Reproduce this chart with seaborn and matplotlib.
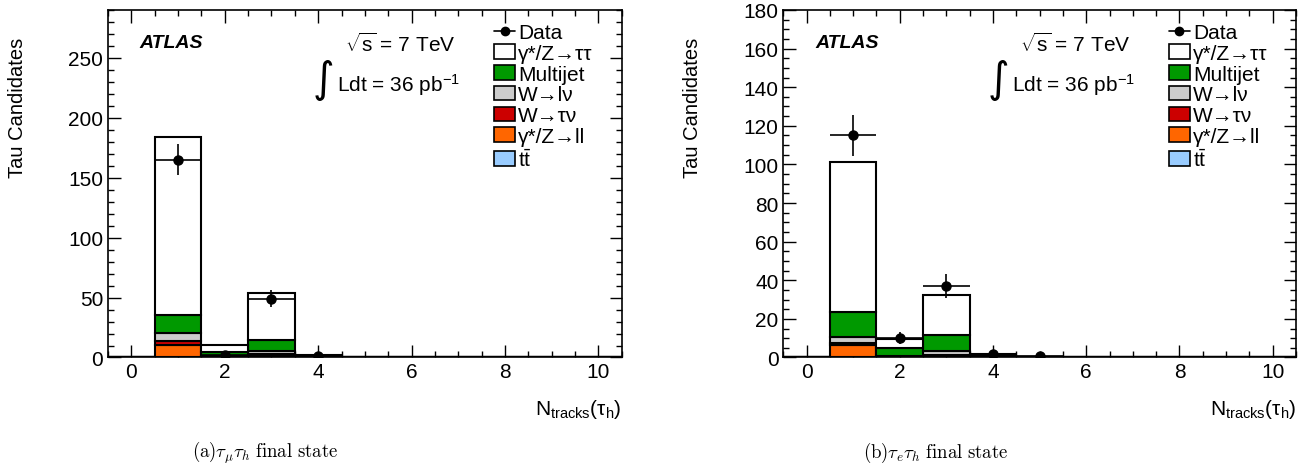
import numpy as np
import pandas as pd
import matplotlib
matplotlib.use("Agg")
import matplotlib.pyplot as plt
import seaborn as sns
from matplotlib.ticker import MultipleLocator
from matplotlib.lines import Line2D
from matplotlib.patches import Patch

# DATA
ntracks = list(range(0, 11))
processes = ["γ*/Z→ττ", "Multijet", "W→lν", "W→τν", "γ*/Z→ll", "t$\\bar{\\mathrm{t}}$"]
colors = ["#ffffff", "#009900", "#cccccc", "#cc0000", "#ff6600", "#99ccff"]

# left: tau_mu tau_h
mu_ztautau = [0, 148.5, 5.5, 39.5, 1.0, 0.2, 0.1, 0, 0, 0, 0]
mu_multijet = [0, 15.0, 3.5, 9.0, 0.5, 0.2, 0.1, 0, 0, 0, 0]
mu_wlnu = [0, 6.5, 0.6, 2.8, 0.1, 0, 0, 0, 0, 0, 0]
mu_wtaunu = [0, 3.5, 0.1, 0.8, 0, 0, 0, 0, 0, 0, 0]
mu_zll = [0, 10.0, 0.3, 1.5, 0.1, 0, 0, 0, 0, 0, 0]
mu_ttbar = [0, 0.1, 0.05, 0.2, 0.05, 0, 0, 0, 0, 0, 0]
mu_data_x = [1, 2, 3, 4]
mu_data_y = [165, 2, 49, 1.5]
mu_data_err = [13, 2.5, 7, 2.5]

# right: tau_e tau_h
e_ztautau = [0, 77.4, 4.7, 20.7, 0.8, 0.2, 0.1, 0, 0, 0, 0]
e_multijet = [0, 13.1, 4.2, 8.4, 0.5, 0.2, 0, 0, 0, 0, 0]
e_wlnu = [0, 2.9, 0.3, 1.7, 0.1, 0, 0, 0, 0, 0, 0]
e_wtaunu = [0, 1.4, 0.1, 0.3, 0, 0, 0, 0, 0, 0, 0]
e_zll = [0, 6.2, 0.4, 1.0, 0.1, 0, 0, 0, 0, 0, 0]
e_ttbar = [0, 0.1, 0.05, 0.2, 0.05, 0, 0, 0, 0, 0, 0]
e_data_x = [1, 2, 3, 4, 5]
e_data_y = [115, 10, 37, 2, 1]
e_data_err = [10.7, 3.2, 6, 2, 1.5]

sns.set_style("ticks")
plt.rcParams["font.family"] = ["Liberation Sans", "DejaVu Sans"]
plt.rcParams["mathtext.fontset"] = "custom"
plt.rcParams["mathtext.rm"] = "Liberation Sans"
plt.rcParams["mathtext.it"] = "Liberation Sans:italic"
plt.rcParams["mathtext.bf"] = "Liberation Sans:bold"
plt.rcParams["axes.edgecolor"] = "black"
plt.rcParams["xtick.color"] = "black"
plt.rcParams["ytick.color"] = "black"
plt.rcParams["text.color"] = "black"
plt.rcParams["axes.labelcolor"] = "black"


def make_df(stacks):
    rows = []
    for proc, vals in zip(processes, stacks):
        for n, v in zip(ntracks, vals):
            rows.append({"ntrk": n, "proc": proc, "w": v})
    return pd.DataFrame(rows)


def draw_panel(ax, stacks, dx, dy, derr, ymax, ymaj, ymin):
    df = make_df(stacks)
    sns.histplot(data=df, x="ntrk", weights="w", hue="proc", hue_order=processes,
                 multiple="stack", discrete=True, shrink=1,
                 palette=dict(zip(processes, colors)), alpha=1,
                 edgecolor="black", linewidth=1.5, legend=False, ax=ax)
    ax.errorbar(dx, dy, xerr=0.5, yerr=derr, fmt="o", color="black",
                ms=6.5, elinewidth=1.2, capsize=0, zorder=5)
    ax.set_xlim(-0.5, 10.5)
    ax.set_ylim(0, ymax)
    ax.xaxis.set_major_locator(MultipleLocator(2))
    ax.xaxis.set_minor_locator(MultipleLocator(0.5))
    ax.yaxis.set_major_locator(MultipleLocator(ymaj))
    ax.yaxis.set_minor_locator(MultipleLocator(ymin))
    ax.tick_params(which="both", direction="in", top=True, right=True, width=1,
                   labelsize=15, colors="black")
    ax.tick_params(which="major", length=9)
    ax.tick_params(which="minor", length=4.5)
    for s in ax.spines.values():
        s.set_linewidth(1.2)
        s.set_color("black")
        s.set_visible(True)
    ax.set_xlabel("N$_{\\mathrm{tracks}}$(τ$_{\\mathrm{h}}$)", fontsize=15, loc="right")
    ax.xaxis.set_label_coords(1.0, -0.115)
    ax.set_ylabel("Tau Candidates", fontsize=14.5)
    ax.yaxis.set_label_coords(-0.158, 0.72)

    ax.text(0.062, 0.905, "ATLAS", transform=ax.transAxes, fontsize=14,
            fontweight="bold", fontstyle="italic", va="center")
    ax.text(0.461, 0.905, "$\\sqrt{\\mathrm{s}}$ = 7 TeV", transform=ax.transAxes,
            fontsize=15, va="center")
    ax.text(0.398, 0.80, "∫", transform=ax.transAxes, fontsize=30, va="center",
            family=["DejaVu Sans"])
    ax.text(0.446, 0.787, "Ldt = 36 pb$^{\\mathrm{-1}}$", transform=ax.transAxes,
            fontsize=15, va="center")

    handles = [Line2D([], [], color="black", marker="o", ms=6, lw=1.2)]
    for c in colors:
        handles.append(Patch(facecolor=c, edgecolor="black", linewidth=1.2))
    ax.legend(handles, ["Data"] + processes, loc="upper left",
              bbox_to_anchor=(0.752, 0.962), frameon=False, fontsize=15,
              handlelength=1.0, handleheight=0.7, handletextpad=0.15,
              labelspacing=0.085, borderaxespad=0, borderpad=0)


fig = plt.figure(figsize=(13.05, 4.64), dpi=100)
ax1 = fig.add_axes([0.0828, 0.2274, 0.3936, 0.749])
ax2 = fig.add_axes([0.6002, 0.2274, 0.3929, 0.749])

draw_panel(ax1, [mu_ztautau, mu_multijet, mu_wlnu, mu_wtaunu, mu_zll, mu_ttbar],
           mu_data_x, mu_data_y, mu_data_err, 290, 50, 10)
draw_panel(ax2, [e_ztautau, e_multijet, e_wlnu, e_wtaunu, e_zll, e_ttbar],
           e_data_x, e_data_y, e_data_err, 180, 20, 5)

fig.text(0.203, 0.013, r"$\mathrm{(a)}\tau_\mu\tau_h\ \mathrm{final\ state}$",
         math_fontfamily="cm", ha="center", fontsize=13.5)
fig.text(0.717, 0.013, r"$\mathrm{(b)}\tau_e\tau_h\ \mathrm{final\ state}$",
         math_fontfamily="cm", ha="center", fontsize=13.5)

fig.savefig("out.png", dpi=100)
